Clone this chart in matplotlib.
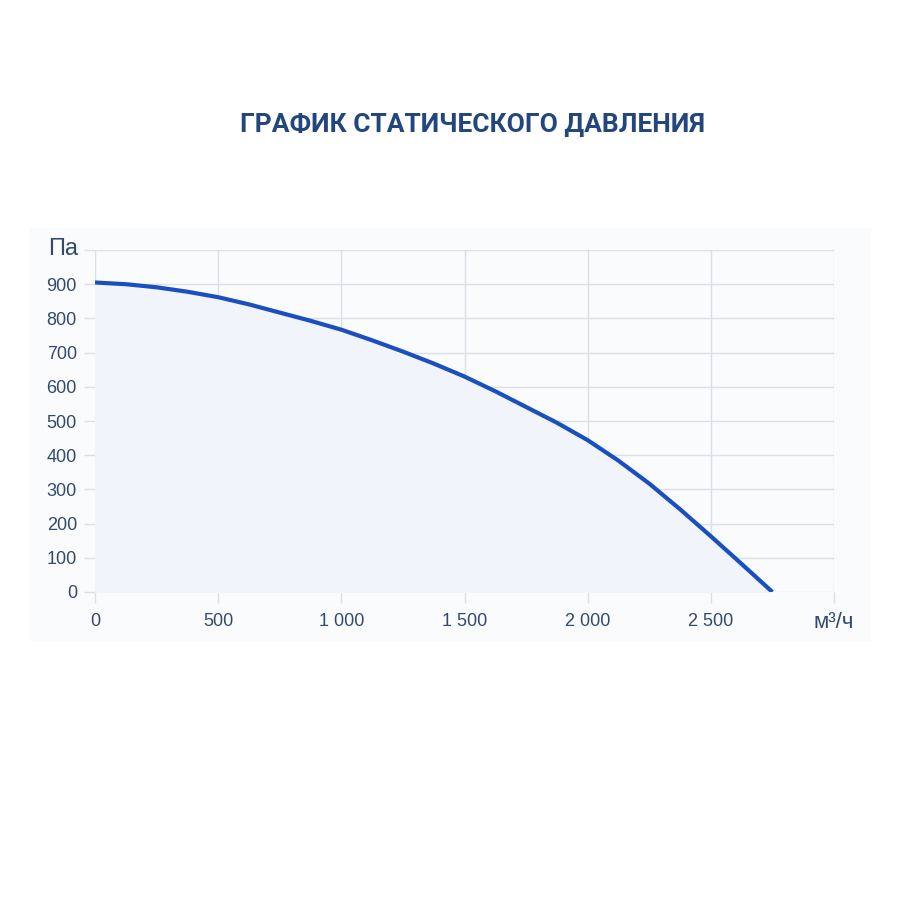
import numpy as np
import matplotlib.pyplot as plt
from matplotlib.patches import Rectangle
from matplotlib.ticker import FuncFormatter

# flow (m3/h) and static pressure (Pa)
flow = [0, 125, 250, 375, 500, 625, 750, 875, 1000, 1125, 1250, 1375,
        1500, 1625, 1750, 1875, 2000, 2125, 2250, 2375, 2500, 2625, 2750]
pressure = [905, 900, 891, 878, 862, 841, 817, 793, 767, 736, 703, 668,
            630, 587, 541, 495, 444, 384, 317, 242, 163, 82, 0]

x_ticks = [0, 500, 1000, 1500, 2000, 2500, 3000]
y_ticks = [0, 100, 200, 300, 400, 500, 600, 700, 800, 900, 1000]

title = "ГРАФИК СТАТИЧЕСКОГО ДАВЛЕНИЯ"
y_unit = "Па"
x_unit = "м³/ч"

txt = "#34496e"
grid_c = "#dcdfe6"
line_c = "#1a4fbf"

plt.rcParams['font.family'] = ['Liberation Sans', 'DejaVu Sans']

fig = plt.figure(figsize=(9, 9), dpi=100)
fig.patch.set_facecolor("white")

# faint panel behind the chart
fig.patches.append(Rectangle((30 / 900, 1 - 640 / 900), 840 / 900, 412 / 900,
                             transform=fig.transFigure, color="#fafbfd", zorder=-5))

ax = fig.add_axes([95 / 900, 1 - 592 / 900, 739 / 900, 342 / 900])
ax.set_facecolor("none")
ax.set_zorder(2)

ax.fill_between(flow, pressure, 0, color="#f1f4fa", zorder=1)
ax.plot(flow, pressure, color=line_c, lw=3, solid_joinstyle="round",
        solid_capstyle="butt", zorder=3)

ax.set_xlim(0, 3000)
ax.set_ylim(0, 1000)
ax.set_xticks(x_ticks)
ax.set_yticks(y_ticks)

fmt = FuncFormatter(lambda v, p: f"{int(v):,}".replace(",", " "))
xlabels = [fmt(v, None) for v in x_ticks[:-1]] + [""]
ax.set_xticklabels(xlabels)
ylabels = [str(v) for v in y_ticks[:-1]] + [""]
ax.set_yticklabels(ylabels)

ax.grid(True, color=grid_c, lw=1, zorder=0)
ax.set_axisbelow(True)
for s in ax.spines.values():
    s.set_visible(False)
ax.tick_params(axis="both", length=8, width=1, color=grid_c,
               labelcolor=txt, labelsize=13)
ax.tick_params(axis="y", pad=5)
ax.tick_params(axis="x", pad=7)

fig.text(63 / 900, 1 - 249 / 900, y_unit, ha="center", va="center",
         color=txt, fontsize=17)
fig.text(834 / 900, 1 - 622 / 900, x_unit, ha="center", va="center",
         color=txt, fontsize=16)

fig.text(472 / 900, 1 - 125 / 900, title, ha="center", va="center",
         color="#24467e", fontsize=19, fontweight="bold",
         family=["Roboto", "DejaVu Sans"])

fig.savefig("out.png", dpi=100, facecolor="white")
